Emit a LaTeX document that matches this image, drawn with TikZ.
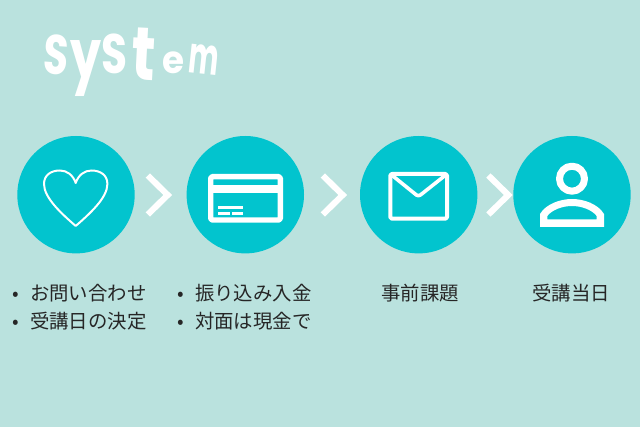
\documentclass[tikz,border=0pt]{standalone}
\usepackage{xcolor}
\usepackage{fontspec}
\setmainfont{Noto Sans CJK JP}
\newfontfamily\titlefont{Poppins}
\usetikzlibrary{positioning}

\definecolor{paleteal}{HTML}{BAE2DE}
\definecolor{stepteal}{HTML}{02C4CE}

\newcommand{\titlechar}[5]{\raisebox{#3pt}{\rotatebox[origin=c]{#4}{\resizebox*{#1pt}{#2pt}{#5}}}}

\tikzset{
  stepcircle/.style={circle, fill=stepteal, minimum size=117.4pt, inner sep=0pt},
  chevron/.style={draw=white, line width=6.1pt, miter limit=10},
  icon/.style={draw=white, line join=round},
  steptext/.style={font=\fontsize{19.4}{21}\selectfont, text=black!85, inner sep=0pt},
  bulleted/.style={steptext, anchor=west}
}
\newcommand{\bul}{\makebox[16pt][l]{\hspace{-2pt}\textbullet}}

\begin{document}
\begin{tikzpicture}[x=1pt, y=-1pt]
      \path[fill=paleteal, use as bounding box] (0, 0) rectangle (640, 427);

      \node[anchor=base west, inner sep=0pt, text=white] (title) at (42, 74)
        {\titlefont\bfseries
         \titlechar{25}{40}{0}{-4}{S}\kern1pt%
         \titlechar{31}{56}{-5}{0}{y}\kern0pt%
         \titlechar{26}{40}{0}{0}{S}\kern3pt%
         \titlechar{24}{52}{-6}{-3}{t}\kern5pt%
         \titlechar{22}{22}{0}{0}{e}\kern3pt%
         \titlechar{30}{29}{0}{-6}{m}};

      \node[stepcircle] (contact) at (76, 194.7) {};
      \node[stepcircle] (payment) at (245.3, 194.7) {};
      \node[stepcircle] (task)    at (418.7, 194.7) {};
      \node[stepcircle] (lesson)  at (572, 194.7) {};

      \draw[chevron] (147.8, 175.5) -- (167.7, 195) -- (147.8, 214.5);
      \draw[chevron] (322.8, 175.5) -- (342.7, 195) -- (322.8, 214.5);
      \draw[chevron] (488.4, 175.5) -- (508.3, 195) -- (488.4, 214.5);

      % heart
      \draw[icon, line width=2pt] (75.7, 226)
        .. controls (62, 214) and (44, 198) .. (44, 184)
        .. controls (44, 175) and (51, 170.5) .. (60, 170.5)
        .. controls (67, 170.5) and (73, 175) .. (75.7, 183)
        .. controls (78.4, 175) and (84.4, 170.5) .. (91.4, 170.5)
        .. controls (100.4, 170.5) and (107.4, 175) .. (107.4, 184)
        .. controls (107.4, 198) and (89.4, 214) .. (75.7, 226) -- cycle;

      % card
      \draw[icon, line width=5.4pt, rounded corners=1.5pt] (210.7, 176.7) rectangle (280.3, 220);
      \fill[white] (208, 185) rectangle (283, 192.7);
      \fill[white] (218.3, 206.3) rectangle (243, 209);
      \fill[white] (218.3, 212) rectangle (229.7, 214.7);
      \fill[white] (232, 212) rectangle (243, 214.7);

      % envelope
      \draw[icon, line width=4pt, rounded corners=1.5pt] (390.3, 174) rectangle (447, 218.7);
      \draw[icon, line width=3.6pt, rounded corners=2.5pt] (391, 174.5) -- (418.4, 196.6) -- (446.3, 174.5);

      % person
      \draw[icon, line width=7pt] (572, 178.7) circle [radius=12.5];
      \fill[white, even odd rule] (540, 227) -- (540, 214)
        .. controls (546, 204) and (560, 199) .. (572, 199)
        .. controls (584, 199) and (598, 204) .. (604, 214) -- (604, 227) -- cycle
        (547.3, 219.3) -- (547.3, 216)
        .. controls (552, 210) and (562, 206) .. (572, 206)
        .. controls (582, 206) and (592, 210) .. (596.7, 216) -- (596.7, 219.3) -- cycle;

      \node[bulleted] (contact1) at (14, 293) {\bul お問い合わせ};
      \node[bulleted] (contact2) at (14, 321) {\bul 受講日の決定};
      \node[bulleted] (payment1) at (179, 293) {\bul 振り込み入金};
      \node[bulleted] (payment2) at (179, 321) {\bul 対面は現金で};
      \node[steptext] (tasklabel)   at (420, 293) {事前課題};
      \node[steptext] (lessonlabel) at (571, 293) {受講当日};
\end{tikzpicture}
\end{document}
